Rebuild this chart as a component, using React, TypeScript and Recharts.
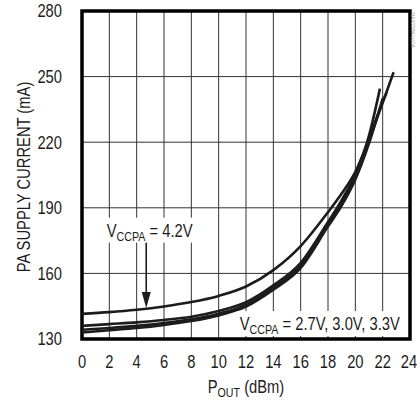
import React from 'react';
import {
  LineChart,
  Line,
  XAxis,
  YAxis,
  CartesianGrid,
  ReferenceArea,
  ReferenceLine,
  ReferenceDot,
} from 'recharts';

const FONT = '"Liberation Sans", Arial, sans-serif';
const SX = 0.82;

const xTicks = [0, 2, 4, 6, 8, 10, 12, 14, 16, 18, 20, 22, 24];
const yTicks = [130, 160, 190, 220, 250, 280];

const poutV42 = [0, 2, 4, 6, 8, 10, 12, 14, 16, 18, 19, 20, 21, 22, 22.8];
const currV42 = [141.5, 142.3, 143.4, 144.9, 146.9, 149.7, 154, 161.5, 172.5, 188, 196.5, 206.5, 221, 238, 252];

const poutV33 = [0, 2, 4, 6, 8, 10, 12, 14, 16, 18, 19, 20, 21, 21.8];
const currV33 = [136, 136.8, 137.6, 138.7, 140.2, 142.8, 146.8, 154.5, 164.8, 183.5, 193.5, 205.5, 223, 244.5];

const poutV30 = [0, 2, 4, 6, 8, 10, 12, 14, 16, 18, 19, 20, 21, 22, 22.3];
const currV30 = [134.2, 135, 136, 137.3, 139, 141.6, 145.6, 153.5, 163.5, 182.5, 192.5, 204.5, 221.5, 238.5, 243];

const poutV27 = [0, 2, 4, 6, 8, 10, 12, 14, 16, 18, 19, 20, 21, 22];
const currV27 = [133, 134, 135, 136.4, 138.2, 140.8, 144.8, 152.5, 162.5, 181.5, 191, 203, 219.5, 240];

const toPoints = (xs: number[], ys: number[]) => xs.map((x, i) => ({ x, y: ys[i] }));

const series = [
  toPoints(poutV42, currV42),
  toPoints(poutV33, currV33),
  toPoints(poutV30, currV30),
  toPoints(poutV27, currV27),
];

const label42 = { x: 4.95, y: 180 };
const label27 = { x: 17.4, y: 137.3 };
const arrowTop = { x: 4.7, y: 174.5 };
const arrowTip = { x: 4.7, y: 144.2 };

const INK = '#1c1c1c';

const VccLabel = ({ cx, cy, rest, w }: any) => (
  <g>
    <rect x={cx - w / 2} y={cy - 12} width={w} height={25} fill="#fff" />
    <text
      x={0}
      y={0}
      transform={`translate(${cx} ${cy + 7}) scale(${SX} 1)`}
      textAnchor="middle"
      fontFamily={FONT}
      fontSize={18}
      fill={INK}
    >
      <tspan>V</tspan>
      <tspan fontSize={13} dy={4}>CCPA</tspan>
      <tspan dy={-4}>{rest}</tspan>
    </text>
  </g>
);

const ArrowHead = ({ cx, cy }: any) => (
  <path d={`M ${cx - 4.5} ${cy - 16} L ${cx + 4.5} ${cy - 16} L ${cx} ${cy} Z`} fill={INK} />
);

const XTick = ({ x, y, payload }: any) => (
  <text
    x={0}
    y={0}
    dy="0.71em"
    transform={`translate(${x} ${y}) scale(${SX} 1)`}
    textAnchor="middle"
    fontFamily={FONT}
    fontSize={18}
    fill={INK}
  >
    {payload.value}
  </text>
);

const YTick = ({ x, y, payload }: any) => (
  <text
    x={0}
    y={0}
    dy="0.355em"
    transform={`translate(${x} ${y}) scale(${SX} 1)`}
    textAnchor="end"
    fontFamily={FONT}
    fontSize={18}
    fill={INK}
  >
    {payload.value}
  </text>
);

export default function App() {
  return (
    <div style={{ position: 'absolute', left: 0, top: 0, background: '#fff' }}>
      <LineChart
        width={417}
        height={401}
        margin={{ top: 11, right: 7, bottom: 0, left: 0 }}
      >
        <CartesianGrid stroke="#333" strokeWidth={1} />
        <XAxis
          dataKey="x"
          type="number"
          domain={[0, 24]}
          ticks={xTicks}
          allowDataOverflow
          height={62}
          tickSize={0}
          tickMargin={16}
          axisLine={false}
          tickLine={false}
          tick={<XTick />}
          label={{
            content: (p: any) => {
              const vb = p.viewBox;
              const cx = vb.x + vb.width / 2;
              return (
                <g>
                  <text
                    x={0}
                    y={0}
                    transform={`translate(${cx} 393) scale(${SX} 1)`}
                    textAnchor="middle"
                    fontFamily={FONT}
                    fontSize={18}
                    fill={INK}
                  >
                    <tspan>P</tspan>
                    <tspan fontSize={13} dy={4}>OUT</tspan>
                    <tspan dy={-4}> (dBm)</tspan>
                  </text>
                  <text
                    x={0}
                    y={0}
                    transform="translate(411 12) rotate(90)"
                    fontFamily={FONT}
                    fontSize={5}
                    fill="#aaa"
                  >
                    MAX2264 toc04
                  </text>
                </g>
              );
            },
          }}
        />
        <YAxis
          type="number"
          domain={[130, 280]}
          ticks={yTicks}
          allowDataOverflow
          width={82}
          tickSize={0}
          tickMargin={20}
          axisLine={false}
          tickLine={false}
          tick={<YTick />}
          label={{
            content: (p: any) => {
              const vb = p.viewBox;
              const cy = vb.y + vb.height / 2 + 2;
              return (
                <text
                  x={0}
                  y={0}
                  dy="0.36em"
                  transform={`translate(24 ${cy}) rotate(-90) scale(${SX} 1)`}
                  textAnchor="middle"
                  fontFamily={FONT}
                  fontSize={18}
                  fill={INK}
                >
                  PA SUPPLY CURRENT (mA)
                </text>
              );
            },
          }}
        />
        {series.map((d, i) => (
          <Line
            key={i}
            data={d}
            dataKey="y"
            type="monotone"
            stroke={INK}
            strokeWidth={2.6}
            dot={false}
            activeDot={false}
            isAnimationActive={false}
          />
        ))}
        <ReferenceDot
          x={label42.x}
          y={label42.y}
          r={0}
          ifOverflow="visible"
          shape={(p: any) => <VccLabel {...p} w={90} rest=" = 4.2V" />}
        />
        <ReferenceDot
          x={label27.x}
          y={label27.y}
          r={0}
          ifOverflow="visible"
          shape={(p: any) => <VccLabel {...p} w={166} rest=" = 2.7V, 3.0V, 3.3V" />}
        />
        <ReferenceLine
          segment={[arrowTop, { x: arrowTip.x, y: arrowTip.y + 5 }]}
          stroke={INK}
          strokeWidth={1.6}
          ifOverflow="visible"
        />
        <ReferenceDot
          x={arrowTip.x}
          y={arrowTip.y}
          r={0}
          ifOverflow="visible"
          shape={(p: any) => <ArrowHead {...p} />}
        />
        <ReferenceArea
          x1={0}
          x2={24}
          y1={130}
          y2={280}
          fill="none"
          fillOpacity={0}
          stroke="#000"
          strokeWidth={3.5}
          ifOverflow="visible"
        />
      </LineChart>
    </div>
  );
}
